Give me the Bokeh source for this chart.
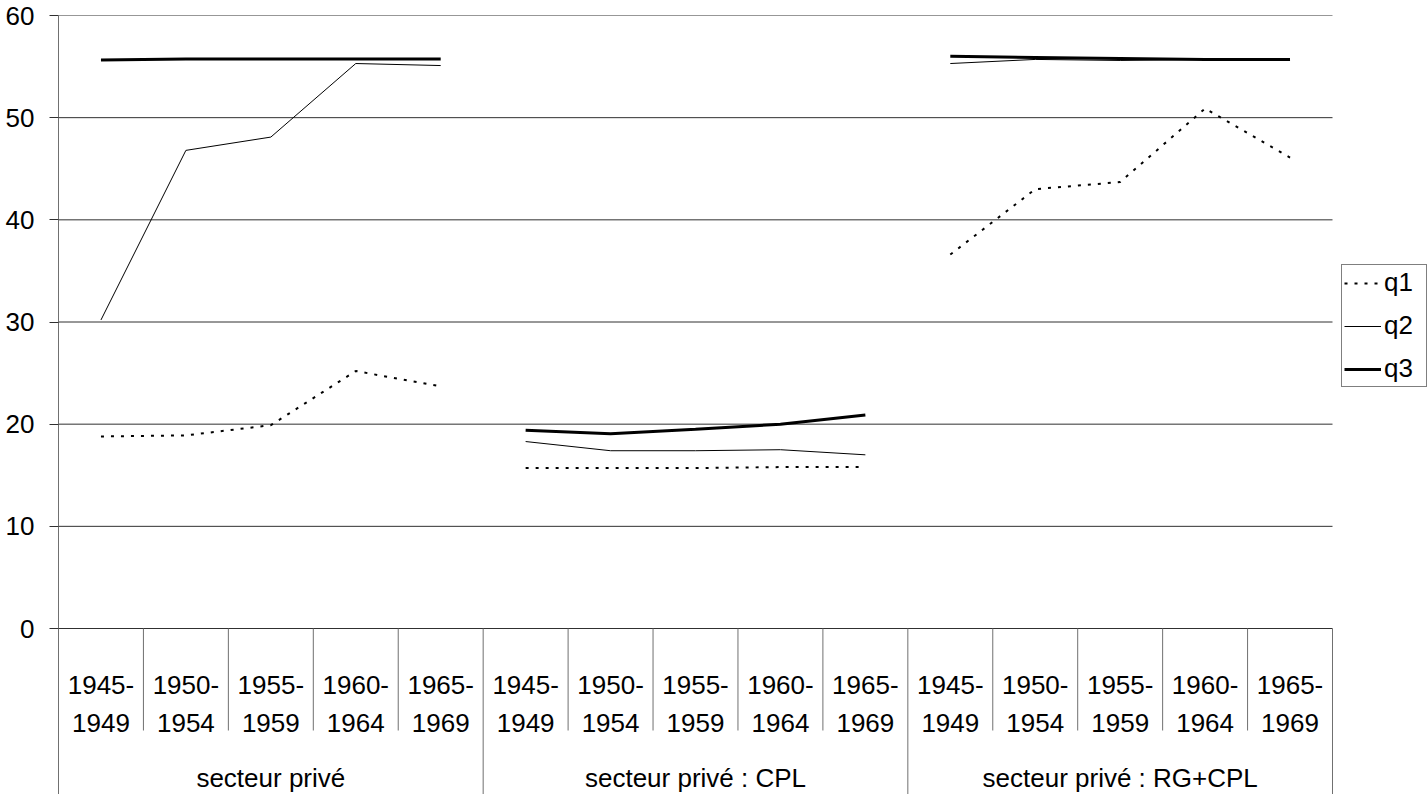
from bokeh.plotting import figure
from bokeh.models import Range1d, FixedTicker, Legend, LegendItem
from bokeh.core.properties import value
from bokeh.embed import file_html
from bokeh.resources import INLINE

groups = ["secteur privé", "secteur privé : CPL", "secteur privé : RG+CPL"]
periods = ["1945-1949", "1950-1954", "1955-1959", "1960-1964", "1965-1969"]

q1 = [18.8, 18.9, 19.9, 25.2, 23.7,
      15.7, 15.7, 15.7, 15.8, 15.8,
      36.6, 43.0, 43.7, 50.9, 46.1]
q2 = [30.2, 46.8, 48.1, 55.3, 55.1,
      18.3, 17.4, 17.4, 17.5, 17.0,
      55.3, 55.7, 55.6, 55.7, 55.6]
q3 = [55.65, 55.75, 55.75, 55.75, 55.75,
      19.4, 19.05, 19.5, 20.0, 20.9,
      56.0, 55.9, 55.8, 55.7, 55.7]
yticks = [0, 10, 20, 30, 40, 50, 60]

FONT = value("Liberation Sans")
n_per = len(periods)
n_grp = len(groups)
n = n_per * n_grp
PX = 613 / 60.0          # pixels per unit on the value axis
CW = 1274 / float(n)     # pixels per category


def below(px):
    return -px / PX


# frame spans to the right edge so the legend can sit inside it
p = figure(width=1427, height=794, output_backend="svg", toolbar_location=None,
           x_range=Range1d(0, (1427 - 58) / CW), y_range=Range1d(below(166), 60),
           x_axis_location=None, min_border_left=58, min_border_right=0,
           min_border_top=15, min_border_bottom=0, outline_line_color=None,
           background_fill_color="white", border_fill_color="white")

# y axis
p.yaxis.ticker = FixedTicker(ticks=yticks)
p.yaxis.major_label_text_font = "Liberation Sans"
p.yaxis.major_label_text_font_size = "26px"
p.yaxis.major_label_text_color = "black"
p.yaxis.major_label_standoff = 15
p.yaxis.major_tick_out = 9
p.yaxis.major_tick_in = 0
p.yaxis.minor_tick_out = 0
p.yaxis.minor_tick_in = 0
p.yaxis.axis_line_color = "#707070"
p.yaxis.major_tick_line_color = "#303030"
p.ygrid.visible = False
p.xgrid.visible = False

# horizontal gridlines limited to the category span
p.segment(x0=[0] * len(yticks), y0=yticks, x1=[n] * len(yticks), y1=yticks,
          line_color="#303030", line_width=1)

# category separators below the zero line
sub_x = [g * n_per + j for g in range(n_grp) for j in range(1, n_per)]
grp_x = [g * n_per for g in range(1, n_grp + 1)]
p.segment(x0=sub_x, y0=[0] * len(sub_x), x1=sub_x, y1=[below(102)] * len(sub_x),
          line_color="#707070", line_width=1)
p.segment(x0=grp_x, y0=[0] * len(grp_x), x1=grp_x, y1=[below(170)] * len(grp_x),
          line_color="#707070", line_width=1)

# category labels
centers = [g * n_per + j + 0.5 for g in range(n_grp) for j in range(n_per)]
starts = [s.split("-")[0] + "-" for s in periods] * n_grp
ends = [s.split("-")[1] for s in periods] * n_grp
p.text(x=centers, y=[below(56.3)] * n, text=starts, text_font=FONT,
       text_font_size="26px", text_align="center", text_baseline="alphabetic",
       text_color="black")
p.text(x=centers, y=[below(94.3)] * n, text=ends, text_font=FONT,
       text_font_size="26px", text_align="center", text_baseline="alphabetic",
       text_color="black")
gcent = [g * n_per + n_per / 2 for g in range(n_grp)]
p.text(x=gcent, y=[below(149)] * n_grp, text=groups, text_font=FONT,
       text_font_size="26px", text_align="center", text_baseline="alphabetic",
       text_color="black")


def broken(vals):
    xs, ys = [], []
    for g in range(n_grp):
        if g:
            xs.append(float("nan"))
            ys.append(float("nan"))
        for j in range(n_per):
            xs.append(g * n_per + j + 0.5)
            ys.append(vals[g * n_per + j])
    return xs, ys


x1, y1 = broken(q1)
x2, y2 = broken(q2)
x3, y3 = broken(q3)
r1 = p.line(x1, y1, line_color="black", line_width=2, line_dash="3 7")
r2 = p.line(x2, y2, line_color="black", line_width=1)
r3 = p.line(x3, y3, line_color="black", line_width=3)

legend = Legend(items=[LegendItem(label="q1", renderers=[r1]),
                       LegendItem(label="q2", renderers=[r2]),
                       LegendItem(label="q3", renderers=[r3])],
                location=(1283, 407), orientation="vertical",
                label_text_font="Liberation Sans", label_text_font_size="26px",
                label_text_color="black",
                glyph_width=37, glyph_height=30, label_height=30, label_width=40,
                label_standoff=3, spacing=12, padding=2, margin=0,
                border_line_color="black", border_line_width=1,
                background_fill_color="white", background_fill_alpha=1.0)
p.add_layout(legend)

open("out.html", "w").write(file_html(p, INLINE))
